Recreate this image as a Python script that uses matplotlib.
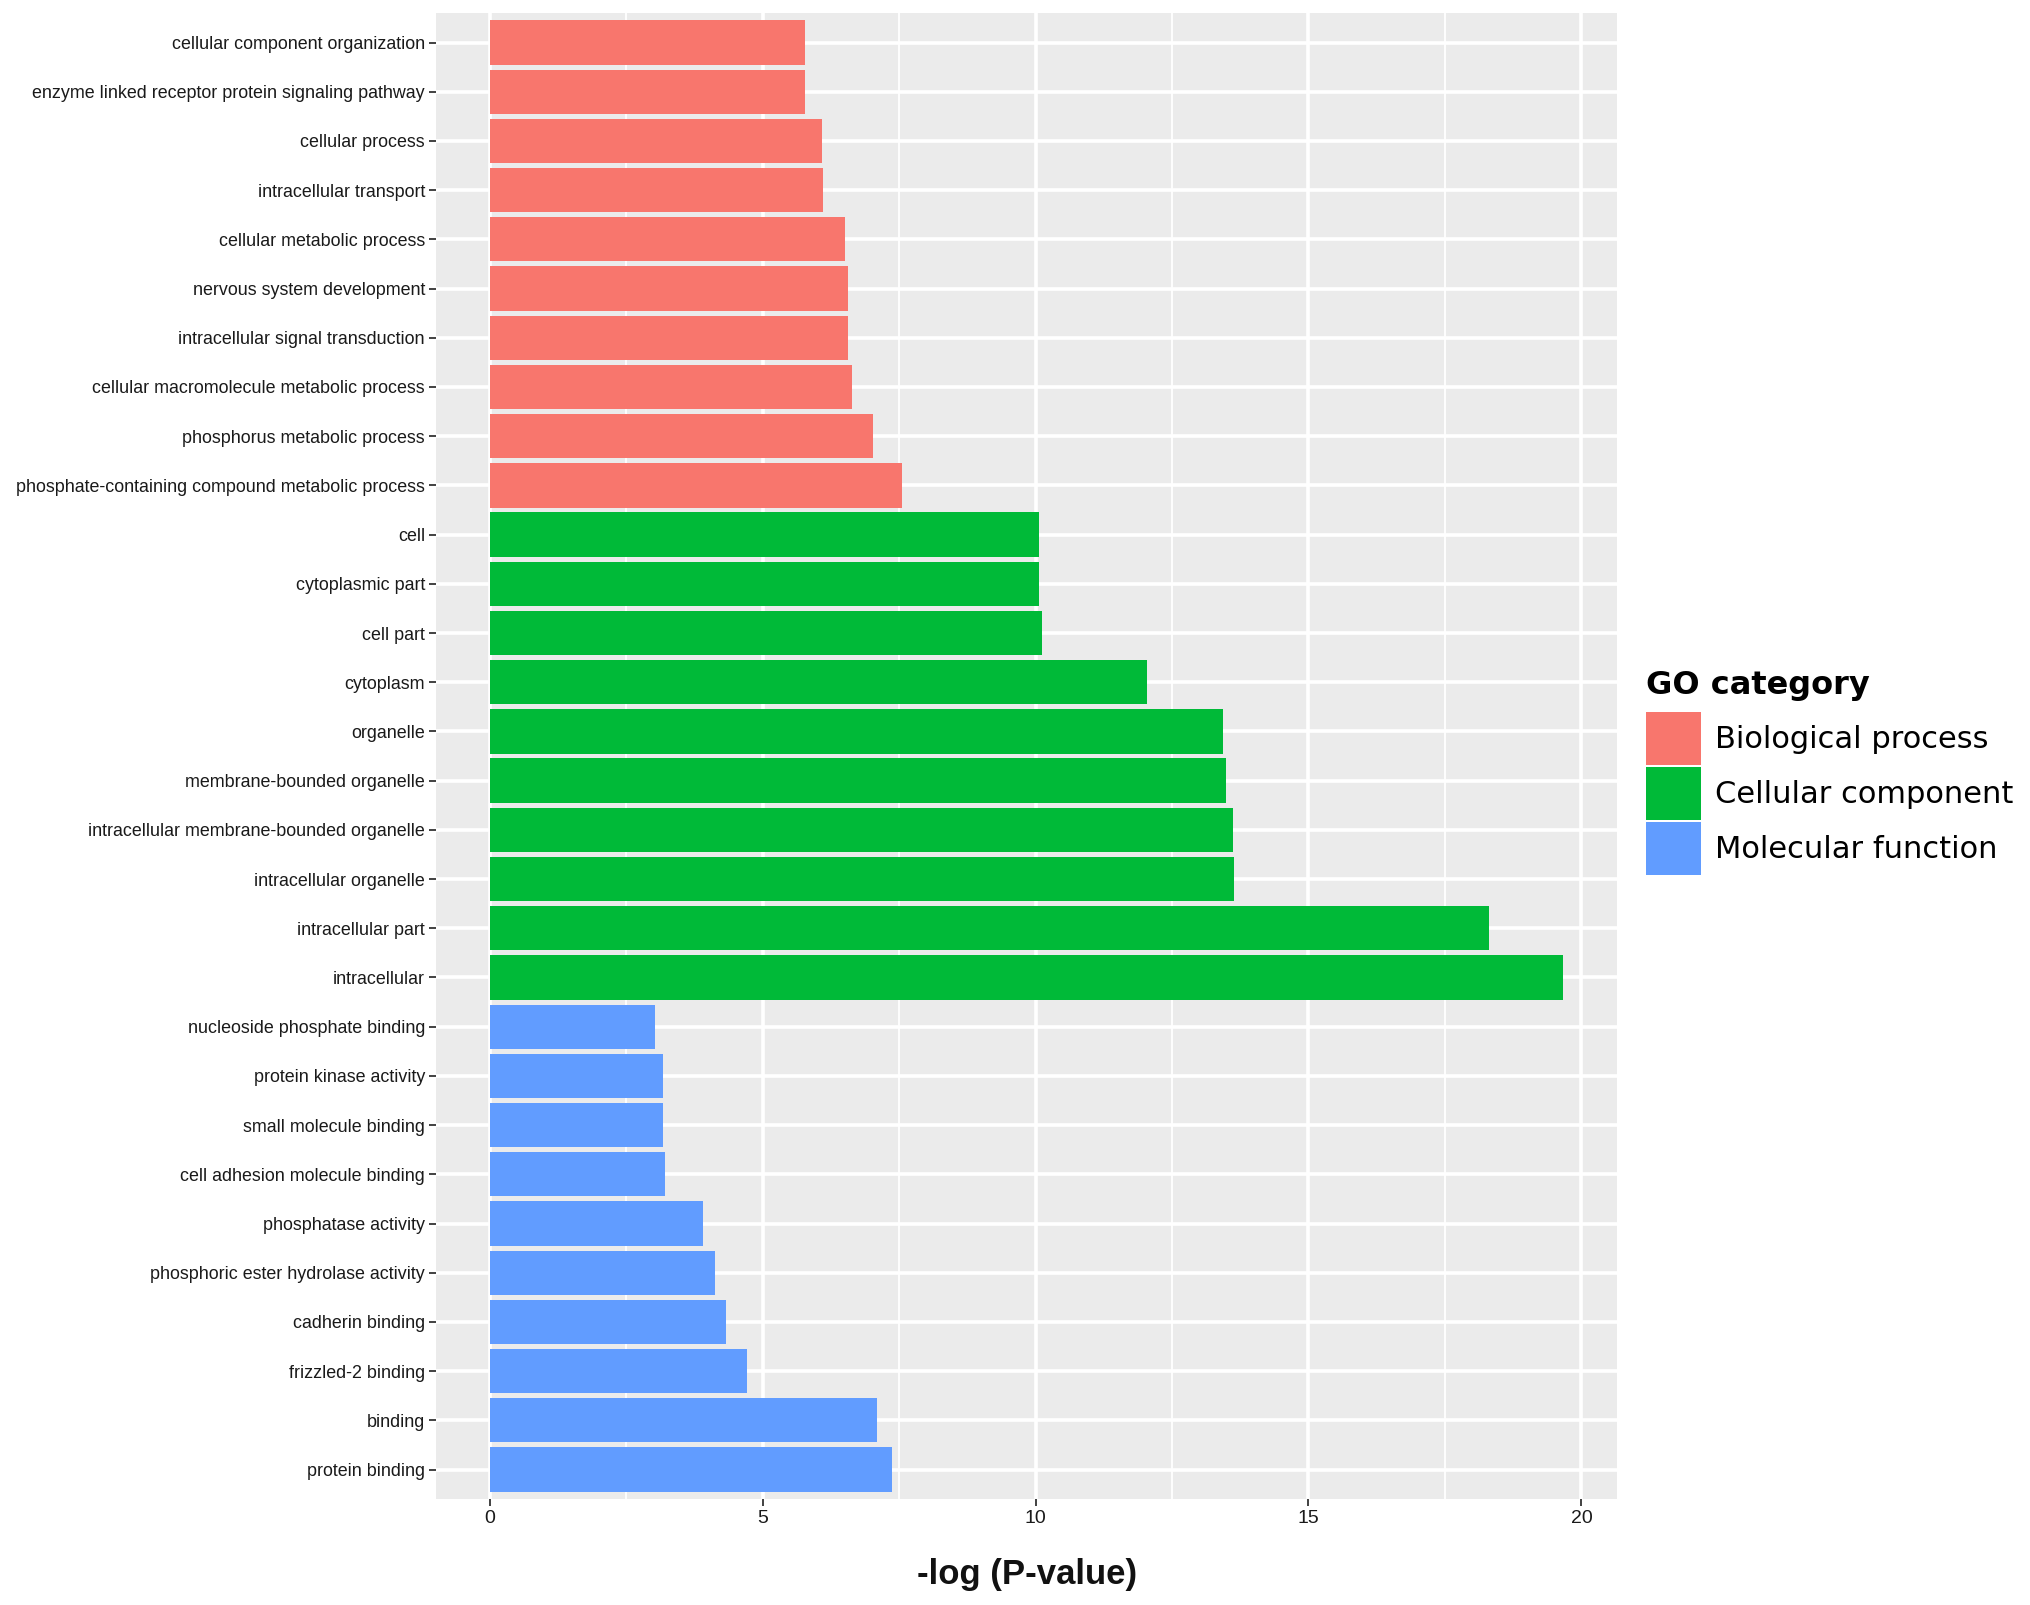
import numpy as np
import matplotlib
matplotlib.use('Agg')
import matplotlib.pyplot as plt
from matplotlib.patches import Patch

# GO terms, top to bottom as in the figure
bp_terms = ['cellular component organization',
            'enzyme linked receptor protein signaling pathway',
            'cellular process',
            'intracellular transport',
            'cellular metabolic process',
            'nervous system development',
            'intracellular signal transduction',
            'cellular macromolecule metabolic process',
            'phosphorus metabolic process',
            'phosphate-containing compound metabolic process']
bp_vals = [5.77, 5.77, 6.08, 6.11, 6.50, 6.57, 6.57, 6.64, 7.03, 7.56]

cc_terms = ['cell', 'cytoplasmic part', 'cell part', 'cytoplasm', 'organelle',
            'membrane-bounded organelle',
            'intracellular membrane-bounded organelle',
            'intracellular organelle', 'intracellular part', 'intracellular']
cc_vals = [10.07, 10.07, 10.11, 12.05, 13.43, 13.49, 13.61, 13.64, 18.30, 19.67]

mf_terms = ['nucleoside phosphate binding', 'protein kinase activity',
            'small molecule binding', 'cell adhesion molecule binding',
            'phosphatase activity', 'phosphoric ester hydrolase activity',
            'cadherin binding', 'frizzled-2 binding', 'binding', 'protein binding']
mf_vals = [3.02, 3.18, 3.18, 3.22, 3.90, 4.13, 4.32, 4.71, 7.10, 7.37]

groups = ['Biological process', 'Cellular component', 'Molecular function']
colors = ['#F8766D', '#00BA38', '#619CFF']

terms = bp_terms + cc_terms + mf_terms
vals = bp_vals + cc_vals + mf_vals
cols = [colors[0]] * len(bp_terms) + [colors[1]] * len(cc_terms) + [colors[2]] * len(mf_terms)

font = ['Liberation Sans', 'DejaVu Sans']

fig = plt.figure(figsize=(20.31, 16.05), dpi=100)
ax = fig.add_axes([0.2147, 0.0660, 0.5815, 0.9259])

n = len(terms)
ypos = np.arange(n)[::-1]
ax.barh(ypos, vals, height=0.9, color=cols, zorder=3)

ax.set_facecolor('#EBEBEB')
for s in ax.spines.values():
    s.set_visible(False)

xmax = max(vals)
ax.set_xlim(-0.05 * xmax, xmax * 1.05)
ax.set_ylim(-0.6, n - 1 + 0.6)

ax.set_xticks([0, 5, 10, 15, 20])
ax.set_xticks([2.5, 7.5, 12.5, 17.5], minor=True)
ax.set_yticks(ypos)
ax.set_yticklabels(terms)

ax.grid(which='major', color='white', lw=2.6, zorder=0)
ax.grid(which='minor', axis='x', color='white', lw=1.3, zorder=0)
ax.set_axisbelow(True)

ax.tick_params(which='major', length=5, width=1.3, color='#333333', pad=3)
ax.tick_params(which='minor', length=0)
for lab in ax.get_yticklabels():
    lab.set_family(font)
    lab.set_fontsize(12.9)
    lab.set_color('#1a1a1a')
for lab in ax.get_xticklabels():
    lab.set_family(font)
    lab.set_fontsize(14)
    lab.set_color('#1a1a1a')

ax.set_xlabel('-log (P-value)', family=font, fontsize=25, fontweight='bold',
              labelpad=22, color='#111111')

handles = [Patch(facecolor=c, edgecolor='none') for c in colors]
leg = fig.legend(handles, groups, loc='upper left', bbox_to_anchor=(0.803, 0.592),
                 frameon=False, fontsize=22, handlelength=1.8, handleheight=2.3,
                 handletextpad=0.45, labelspacing=0.05, borderpad=0,
                 title='GO category', title_fontproperties={'weight': 'bold', 'size': 23})
leg._legend_box.align = 'left'
leg._legend_box.sep = 8

fig.savefig('out.png', dpi=100)
